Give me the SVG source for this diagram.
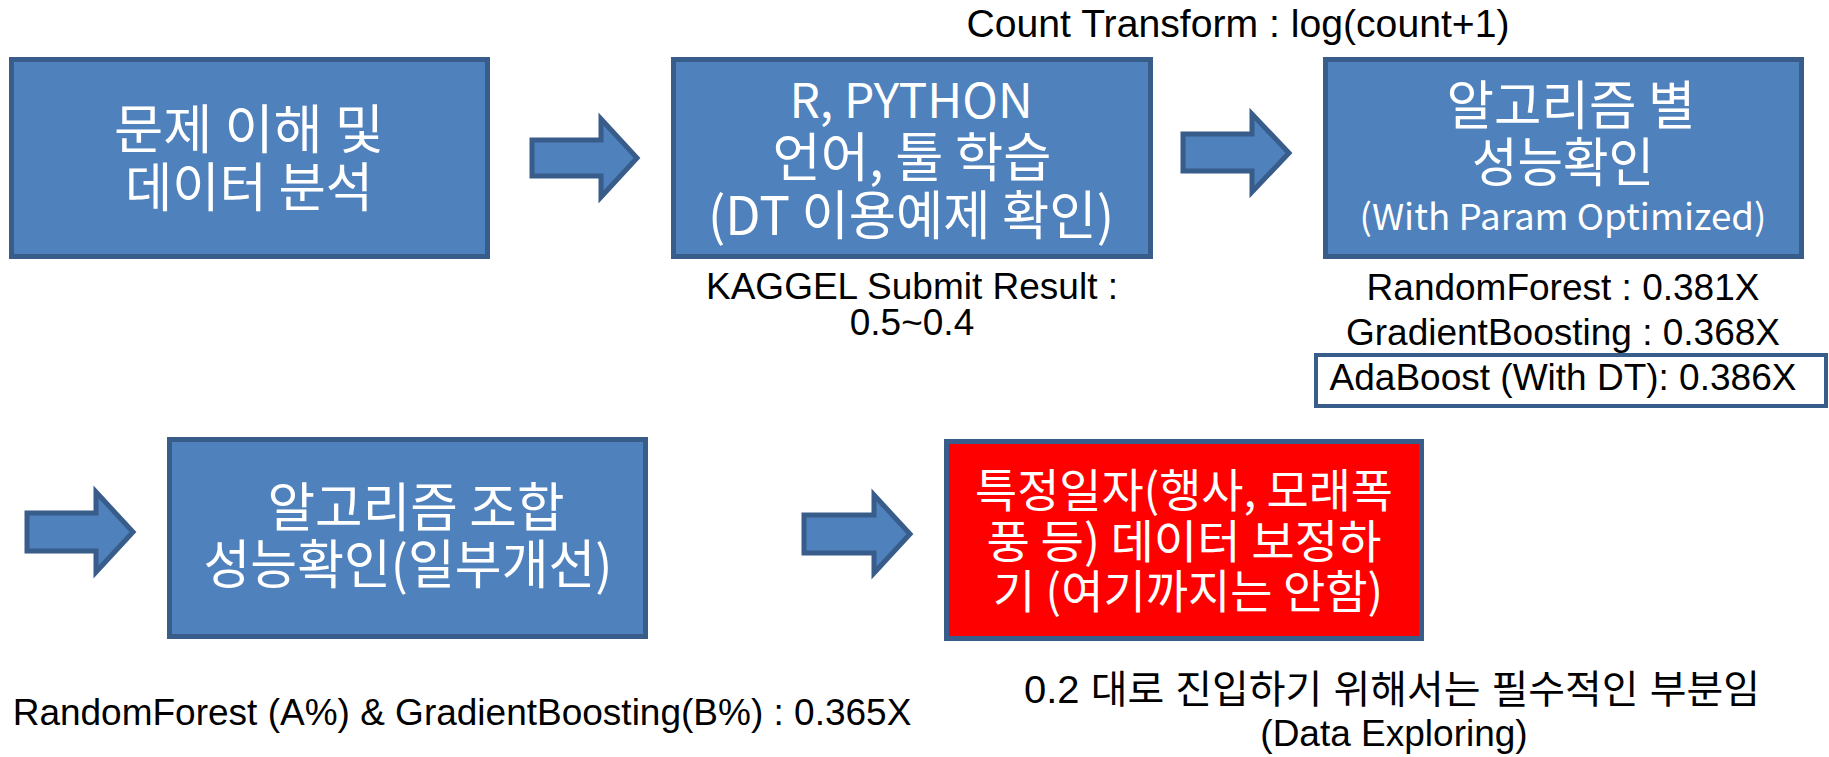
<svg xmlns="http://www.w3.org/2000/svg" width="1829" height="757" viewBox="0 0 1829 757">
  <style>
    .box { fill: #4F81BD; stroke: #385D8A; stroke-width: 5; }
    .hot { fill: #FF0000; stroke: #385D8A; stroke-width: 5; }
    .arrow { fill: #4F81BD; stroke: #385D8A; stroke-width: 5; stroke-linejoin: miter; }
    .in { fill: #FFFFFF; font-family: "Noto Sans CJK KR", "Noto Sans", sans-serif; font-size: 53px; text-anchor: middle; }
    .latin { font-size: 48px; }
    .small { font-size: 36px; }
    .red { font-size: 46px; }
    .lbl { fill: #000000; font-family: "Liberation Sans", "Noto Sans CJK KR", sans-serif; font-size: 37px; text-anchor: middle; }
    .note { fill: #000000; font-family: "Liberation Sans", "Noto Sans CJK KR", sans-serif; font-size: 38px; text-anchor: middle; }
    .frame { fill: #FFFFFF; stroke: #385D8A; stroke-width: 4; }
  </style>

  <!-- flow arrows -->
  <g id="connectors">
    <polygon class="arrow" points="532,140 601,140 601,119 637,158 601,197 601,176 532,176"/>
    <polygon class="arrow" points="1183,134 1252,134 1252,114 1289,153 1252,192 1252,171 1183,171"/>
    <polygon class="arrow" points="27,513 96,513 96,492 133,532 96,572 96,551 27,551"/>
    <polygon class="arrow" points="804,515 874,515 874,495 910,534 874,573 874,553 804,553"/>
  </g>

  <!-- step 1 -->
  <g id="step-understand">
    <rect class="box" x="11.5" y="59.5" width="476" height="197"/>
    <text class="in" x="249" y="149" textLength="270" lengthAdjust="spacingAndGlyphs">문제 이해 및</text>
    <text class="in" x="249" y="207" textLength="248" lengthAdjust="spacingAndGlyphs">데이터 분석</text>
  </g>

  <!-- step 2 -->
  <g id="step-learn">
    <rect class="box" x="673.5" y="59.5" width="477" height="197"/>
    <text class="in latin" x="911" y="118">R, PYTHON</text>
    <text class="in" x="912" y="177" textLength="279" lengthAdjust="spacingAndGlyphs">언어, 툴 학습</text>
    <text class="in" x="911" y="235" textLength="406" lengthAdjust="spacingAndGlyphs">(DT 이용예제 확인)</text>
    <text class="lbl" x="912" y="299">KAGGEL Submit Result :</text>
    <text class="lbl" x="912" y="335">0.5~0.4</text>
  </g>

  <text id="count-transform" class="note" x="1238" y="37" textLength="543" lengthAdjust="spacingAndGlyphs">Count Transform : log(count+1)</text>

  <!-- step 3 -->
  <g id="step-per-algorithm">
    <rect class="box" x="1325.5" y="59.5" width="476" height="197"/>
    <text class="in" x="1571" y="125" textLength="249" lengthAdjust="spacingAndGlyphs">알고리즘 별</text>
    <text class="in" x="1563" y="182" textLength="182" lengthAdjust="spacingAndGlyphs">성능확인</text>
    <text class="in small" x="1563" y="230" textLength="407" lengthAdjust="spacingAndGlyphs">(With Param Optimized)</text>
    <text class="lbl" x="1563" y="300">RandomForest : 0.381X</text>
    <text class="lbl" x="1563" y="345">GradientBoosting : 0.368X</text>
    <rect class="frame" x="1316" y="355" width="510" height="51"/>
    <text class="lbl" x="1563" y="390">AdaBoost (With DT): 0.386X</text>
  </g>

  <!-- step 4 -->
  <g id="step-combine">
    <rect class="box" x="169.5" y="439.5" width="476" height="197"/>
    <text class="in" x="416" y="527" textLength="297" lengthAdjust="spacingAndGlyphs">알고리즘 조합</text>
    <text class="in" x="408" y="584" textLength="409" lengthAdjust="spacingAndGlyphs">성능확인(일부개선)</text>
    <text class="lbl" x="462" y="725">RandomForest (A%) &amp; GradientBoosting(B%) : 0.365X</text>
  </g>

  <!-- step 5 -->
  <g id="step-correct-data">
    <rect class="hot" x="946.5" y="441.5" width="475" height="197"/>
    <text class="in red" x="1184" y="507" textLength="418" lengthAdjust="spacingAndGlyphs">특정일자(행사, 모래폭</text>
    <text class="in red" x="1184" y="558" textLength="395" lengthAdjust="spacingAndGlyphs">풍 등) 데이터 보정하</text>
    <text class="in red" x="1188" y="608" textLength="390" lengthAdjust="spacingAndGlyphs">기 (여기까지는 안함)</text>
    <text class="lbl" x="1392" y="703" style="font-size:39px" textLength="736" lengthAdjust="spacingAndGlyphs">0.2 대로 진입하기 위해서는 필수적인 부분임</text>
    <text class="lbl" x="1394" y="746">(Data Exploring)</text>
  </g>
</svg>
